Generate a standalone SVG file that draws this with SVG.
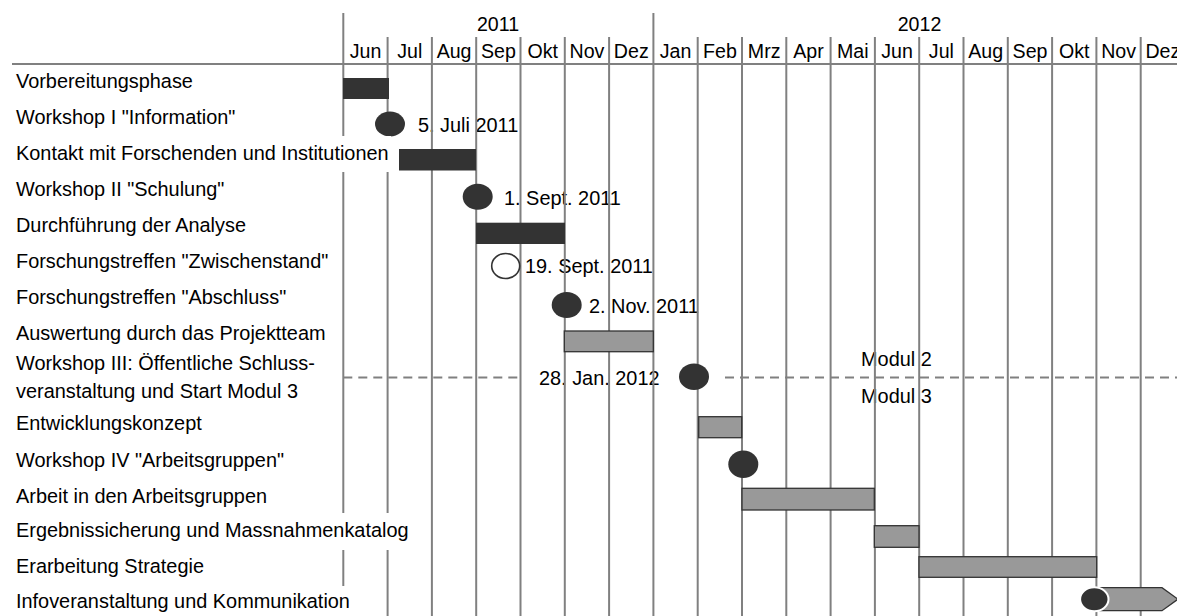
<svg xmlns="http://www.w3.org/2000/svg" width="1177" height="616" viewBox="0 0 1177 616">
<style>
text{font-family:"Liberation Sans",Arial,Helvetica,sans-serif;font-size:19.9px;fill:#000}
.hdr{text-anchor:middle;font-size:19.6px}
.gl{stroke:#808080;stroke-width:2;fill:none}
.dash{stroke:#808080;stroke-width:2;stroke-dasharray:9 6;fill:none}
.dark{fill:#333}
.gray{fill:#999;stroke:#333;stroke-width:1.3}
.ms{fill:#333}
.bg{fill:#fff}
</style>
<rect width="1177" height="616" fill="#fff"/>
<g id="header">
<text class="hdr" x="498" y="31">2011</text>
<text class="hdr" x="919.5" y="31">2012</text>
<text class="hdr" x="365.5" y="58">Jun</text>
<text class="hdr" x="409.8" y="58">Jul</text>
<text class="hdr" x="454.1" y="58">Aug</text>
<text class="hdr" x="498.4" y="58">Sep</text>
<text class="hdr" x="542.7" y="58">Okt</text>
<text class="hdr" x="587" y="58">Nov</text>
<text class="hdr" x="631.3" y="58">Dez</text>
<text class="hdr" x="675.6" y="58">Jan</text>
<text class="hdr" x="719.9" y="58">Feb</text>
<text class="hdr" x="764.2" y="58">Mrz</text>
<text class="hdr" x="808.5" y="58">Apr</text>
<text class="hdr" x="852.8" y="58">Mai</text>
<text class="hdr" x="897.1" y="58">Jun</text>
<text class="hdr" x="941.4" y="58">Jul</text>
<text class="hdr" x="985.7" y="58">Aug</text>
<text class="hdr" x="1030" y="58">Sep</text>
<text class="hdr" x="1074.3" y="58">Okt</text>
<text class="hdr" x="1118.6" y="58">Nov</text>
<text class="hdr" x="1162.9" y="58">Dez</text>
</g>
<g id="connectors">
<line class="dash" x1="343.3" y1="377.5" x2="522" y2="377.5"/>
<line class="dash" x1="725" y1="377.5" x2="1177" y2="377.5"/>
</g>
<g id="dates">
<text x="418" y="131.5">5. Juli 2011</text>
<text x="504" y="205">1. Sept. 2011</text>
<text x="525" y="273">19. Sept. 2011</text>
<text x="589" y="312.7">2. Nov. 2011</text>
<text x="539" y="385">28. Jan. 2012</text>
<text x="861" y="366">Modul 2</text>
<text x="861" y="403">Modul 3</text>
</g>
<g id="grid">
<line class="gl" x1="12" y1="64" x2="1177" y2="64"/>
<line class="gl" x1="343.3" y1="13" x2="343.3" y2="616"/>
<line class="gl" x1="387.6" y1="37" x2="387.6" y2="616"/>
<line class="gl" x1="431.9" y1="37" x2="431.9" y2="616"/>
<line class="gl" x1="476.2" y1="37" x2="476.2" y2="616"/>
<line class="gl" x1="520.5" y1="37" x2="520.5" y2="616"/>
<line class="gl" x1="564.8" y1="37" x2="564.8" y2="616"/>
<line class="gl" x1="609.1" y1="37" x2="609.1" y2="616"/>
<line class="gl" x1="653.4" y1="13" x2="653.4" y2="616"/>
<line class="gl" x1="697.7" y1="37" x2="697.7" y2="616"/>
<line class="gl" x1="742" y1="37" x2="742" y2="616"/>
<line class="gl" x1="786.3" y1="37" x2="786.3" y2="616"/>
<line class="gl" x1="830.6" y1="37" x2="830.6" y2="616"/>
<line class="gl" x1="874.9" y1="37" x2="874.9" y2="616"/>
<line class="gl" x1="919.2" y1="37" x2="919.2" y2="616"/>
<line class="gl" x1="963.5" y1="37" x2="963.5" y2="616"/>
<line class="gl" x1="1007.8" y1="37" x2="1007.8" y2="616"/>
<line class="gl" x1="1052.1" y1="37" x2="1052.1" y2="616"/>
<line class="gl" x1="1096.4" y1="37" x2="1096.4" y2="616"/>
<line class="gl" x1="1140.7" y1="37" x2="1140.7" y2="616"/>
</g>
<g id="t01"><rect class="dark" x="343" y="78" width="46" height="21"/><text x="16" y="88">Vorbereitungsphase</text></g>
<g id="t02"><ellipse class="ms" cx="390" cy="124" rx="15" ry="12.5"/><text x="16" y="124">Workshop I "Information"</text></g>
<g id="t03"><rect class="dark" x="399" y="149" width="77" height="21.5"/><rect class="bg" x="12" y="136" width="379" height="36"/><text x="16" y="160">Kontakt mit Forschenden und Institutionen</text></g>
<g id="t04"><ellipse class="ms" cx="477.7" cy="196.7" rx="15" ry="13"/><text x="16" y="196">Workshop II "Schulung"</text></g>
<g id="t05"><rect class="dark" x="476" y="222.7" width="89" height="21.3"/><text x="16" y="232">Durchführung der Analyse</text></g>
<g id="t06"><ellipse cx="505.7" cy="266" rx="14" ry="12.5" fill="#fff" stroke="#333" stroke-width="1.6"/><text x="16" y="268">Forschungstreffen "Zwischenstand"</text></g>
<g id="t07"><ellipse class="ms" cx="566.7" cy="305" rx="15" ry="13"/><text x="16" y="304">Forschungstreffen "Abschluss"</text></g>
<g id="t08"><rect class="gray" x="564.3" y="331" width="89" height="20.7"/><text x="16" y="340">Auswertung durch das Projektteam</text></g>
<g id="t09"><ellipse class="ms" cx="694" cy="376.7" rx="15" ry="13.3"/><text x="16" y="370">Workshop III: Öffentliche Schluss-</text><text x="16" y="398">veranstaltung und Start Modul 3</text></g>
<g id="t10"><rect class="gray" x="698.7" y="416.7" width="43" height="21"/><text x="16" y="430">Entwicklungskonzept</text></g>
<g id="t11"><ellipse class="ms" cx="743.3" cy="464.3" rx="15" ry="13.8"/><text x="16" y="466.5">Workshop IV "Arbeitsgruppen"</text></g>
<g id="t12"><rect class="gray" x="742" y="488.3" width="132.3" height="21.7"/><text x="16" y="502.5">Arbeit in den Arbeitsgruppen</text></g>
<g id="t13"><rect class="gray" x="874.3" y="525.7" width="44.7" height="21.6"/><rect class="bg" x="12" y="513" width="399" height="37"/><text x="16" y="537.3">Ergebnissicherung und Massnahmenkatalog</text></g>
<g id="t14"><rect class="gray" x="919" y="556.7" width="177.7" height="20.6"/><text x="16" y="573">Erarbeitung Strategie</text></g>
<g id="t15"><polygon class="gray" points="1100,587.7 1162,587.7 1178,599.2 1162,610.7 1100,610.7"/><ellipse class="ms" cx="1094.3" cy="599.3" rx="14.2" ry="12" stroke="#fff" stroke-width="2"/><rect class="bg" x="12" y="586" width="342" height="30"/><text x="16" y="608">Infoveranstaltung und Kommunikation</text></g>
</svg>
